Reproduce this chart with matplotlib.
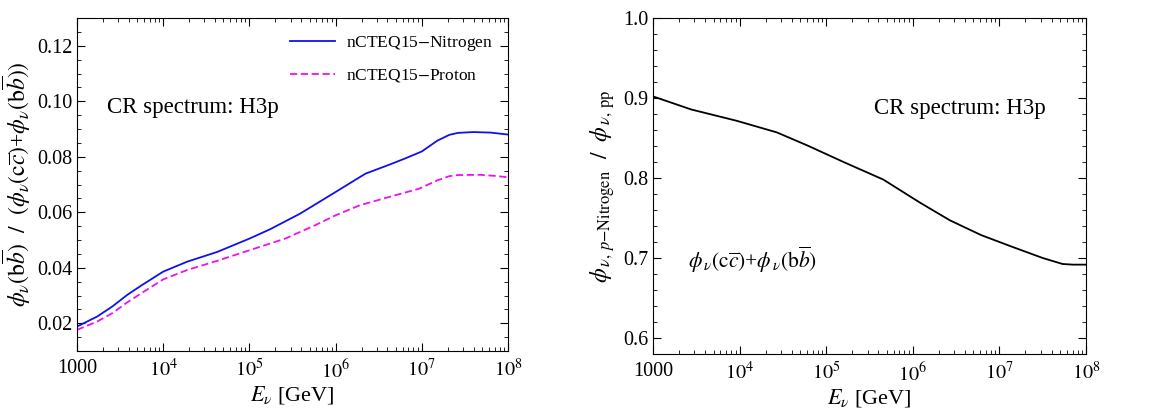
import numpy as np
import matplotlib
matplotlib.use("Agg")
import matplotlib.pyplot as plt
from matplotlib.ticker import MultipleLocator, LogLocator, FixedLocator, FixedFormatter, NullFormatter

plt.rcParams['font.family'] = ['Liberation Serif', 'DejaVu Serif']
plt.rcParams['mathtext.fontset'] = 'stix'

# left panel: b bbar fraction (log10 E, value)
logE_nitro = [3.0, 3.233, 3.408, 3.582, 3.756, 4.0, 4.279, 4.627, 5.0, 5.242, 5.588, 6.0, 6.346,
              6.62, 6.8, 7.0, 7.18, 7.32, 7.42, 7.6, 7.8, 8.0]
nitrogen = [0.0188, 0.0224, 0.026, 0.0302, 0.0338, 0.0386, 0.0422, 0.0457, 0.0505, 0.0539, 0.0595,
            0.0673, 0.0739, 0.0771, 0.0793, 0.0819, 0.0858, 0.0879, 0.0886, 0.0889, 0.0887, 0.088]
logE_prot = [3.0, 3.233, 3.408, 3.582, 3.756, 4.0, 4.279, 4.627, 5.0, 5.415, 5.761, 6.0, 6.28,
             6.62, 6.97, 7.18, 7.32, 7.42, 7.67, 7.85, 8.0]
proton = [0.0176, 0.0206, 0.0236, 0.0275, 0.031, 0.0358, 0.0392, 0.0425, 0.0463, 0.0505, 0.0553,
          0.0589, 0.0625, 0.0655, 0.0685, 0.0715, 0.073, 0.0734, 0.0735, 0.0731, 0.0726]

# right panel: p-Nitrogen / pp ratio
logE_ratio = [3.0, 3.44, 3.97, 4.43, 4.78, 5.2, 5.66, 6.08, 6.43, 6.79, 7.14, 7.5, 7.73, 7.85, 8.0]
ratio = [0.902, 0.8857, 0.8714, 0.857, 0.8408, 0.82, 0.798, 0.7694, 0.747, 0.7286, 0.7143, 0.70,
         0.6925, 0.6917, 0.6917]

xticks = [1e3, 1e4, 1e5, 1e6, 1e7, 1e8]
xticklabels = ['1000', r'$10^4$', r'$10^5$', r'$10^6$', r'$10^7$', r'$10^8$']

fig = plt.figure(figsize=(11.53, 4.11), dpi=100)
ax1 = fig.add_axes([77/1153, 1-351/411, (508-77)/1153, (351-18)/411])
ax2 = fig.add_axes([653/1153, 1-354/411, (1086-653)/1153, (354-18)/411])


def style(ax):
    ax.set_xscale('log')
    ax.set_xlim(1e3, 1e8)
    ax.xaxis.set_major_locator(FixedLocator(xticks))
    ax.xaxis.set_major_formatter(FixedFormatter(xticklabels))
    ax.xaxis.set_minor_locator(LogLocator(base=10, subs=np.arange(2, 10)))
    ax.xaxis.set_minor_formatter(NullFormatter())
    ax.tick_params(which='both', direction='in', top=True, right=True, labelsize=14.5)
    ax.tick_params(which='major', length=6, width=0.8)
    ax.tick_params(which='minor', length=3, width=0.6)
    ax.tick_params(axis='x', pad=6)
    for s in ax.spines.values():
        s.set_linewidth(0.8)
    ax.set_xlabel(r'$E_\nu$ [GeV]', fontsize=16, labelpad=1)


ax1.plot(10**np.array(logE_nitro), nitrogen, color='#1010ee', lw=1.3, label='nCTEQ15$-$Nitrogen')
ax1.plot(10**np.array(logE_prot), proton, color='#ee10ee', lw=1.3, ls=(0, (4, 2)), label='nCTEQ15$-$Proton')
style(ax1)
ax1.set_ylim(0.01, 0.13)
ax1.yaxis.set_major_locator(MultipleLocator(0.02))
ax1.yaxis.set_minor_locator(MultipleLocator(0.005))
ax1.set_ylabel(r'$\phi_\nu(\mathrm{b}\overline{b})\ \ /\ \ (\phi_\nu(\mathrm{c}\overline{c})$+$\phi_\nu(\mathrm{b}\overline{b}))$',
               fontsize=17, labelpad=3)
ax1.text(0.07, 0.715, 'CR spectrum: H3p', transform=ax1.transAxes, fontsize=16.5)
ax1.legend(loc='upper right', frameon=False, fontsize=12.5, handlelength=2.6, handletextpad=0.6,
           labelspacing=0.85, bbox_to_anchor=(1.0, 1.0))

ax2.plot(10**np.array(logE_ratio), ratio, color='black', lw=1.3)
style(ax2)
ax2.set_ylim(0.58, 1.0)
ax2.yaxis.set_major_locator(MultipleLocator(0.1))
ax2.yaxis.set_minor_locator(MultipleLocator(0.02))
ax2.yaxis.set_major_formatter(plt.FormatStrFormatter('%.1f'))
ax2.set_ylabel(r'$\phi_{\,\nu,\,p\mathrm{-Nitrogen}}\ \ /\ \ \phi_{\,\nu,\,\mathrm{pp}}$', fontsize=17, labelpad=4)
ax2.text(0.51, 0.715, 'CR spectrum: H3p', transform=ax2.transAxes, fontsize=16.5)
ax2.text(0.08, 0.255, r'$\phi_{\,\nu}(\mathrm{c}\overline{c})$+$\phi_{\,\nu}(\mathrm{b}\overline{b})$',
         transform=ax2.transAxes, fontsize=15.5)

fig.savefig('out.png', dpi=100)
